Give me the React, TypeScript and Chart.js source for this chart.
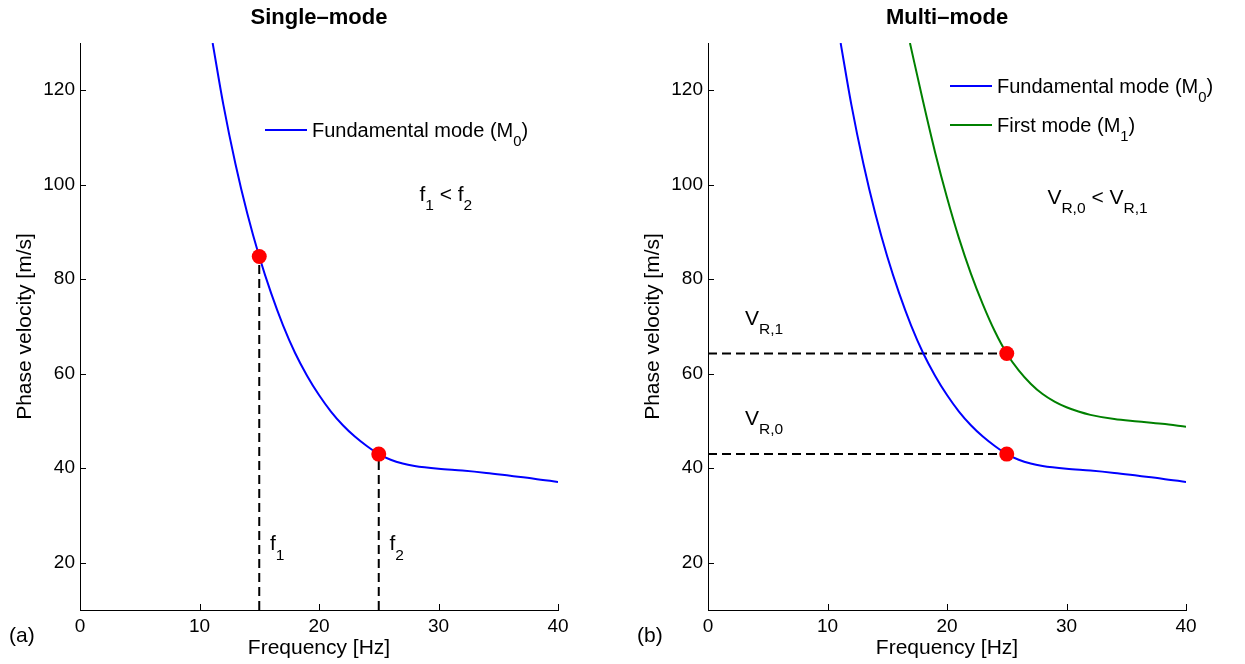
import React, { useEffect, useRef } from 'react';
import { Chart, registerables } from 'chart.js';

Chart.register(...registerables);

const FONT = '"Liberation Sans", Arial, Helvetica, sans-serif';

// ---- data ----
const xTicks = [0, 10, 20, 30, 40];
const yTicks = [20, 40, 60, 80, 100, 120];
const xRange = [0, 40];
const yRange = [10, 130];

// Fundamental mode M0 (frequency Hz, phase velocity m/s)
const m0Freq = [11.1, 12, 13, 14, 15, 16, 17, 18, 19, 20, 21, 22, 23, 24, 25, 26, 27, 28, 30, 32, 34, 36, 38, 40];
const m0Vel = [130, 116.9, 104.5, 93.9, 84.8, 77.0, 70.2, 64.4, 59.6, 55.5, 52.0, 49.1, 46.7, 44.7, 43.0, 41.8, 41.0, 40.5, 39.9, 39.5, 39.0, 38.4, 37.8, 37.1];

// First mode M1
const m1Freq = [16.9, 18, 19, 20, 21, 22, 23, 24, 25, 26, 27, 28, 29, 30, 31, 32, 34, 36, 38, 40];
const m1Vel = [130, 117.6, 106.9, 97.3, 88.7, 81.2, 74.7, 69.0, 64.3, 60.7, 57.9, 55.7, 54.1, 52.9, 52.0, 51.3, 50.4, 49.9, 49.4, 48.8];

// Single-mode picks: two frequencies on M0
const singleFreq = [15, 25];
const singleVel = [84.8, 43.0];

// Multi-mode picks: one frequency, two modes
const multiFreq = [25, 25];
const multiVel = [43.0, 64.3];

const titles = ['Single\u2013mode', 'Multi\u2013mode'];
const xTitle = 'Frequency [Hz]';
const yTitle = 'Phase velocity [m/s]';

type Seg = { t: string; sub?: boolean };

function drawRich(ctx: CanvasRenderingContext2D, segs: Seg[], x: number, y: number, size: number) {
  let cx = x;
  ctx.textBaseline = 'alphabetic';
  ctx.textAlign = 'left';
  ctx.fillStyle = '#000';
  for (const s of segs) {
    const fs = s.sub ? size * 0.74 : size;
    ctx.font = `${fs}px ${FONT}`;
    ctx.fillText(s.t, cx, s.sub ? y + size * 0.45 : y);
    cx += ctx.measureText(s.t).width;
  }
}

const innerTicks = {
  id: 'innerTicks',
  afterDraw(chart: any) {
    const { ctx } = chart;
    const xs = chart.scales.x;
    const ys = chart.scales.y;
    ctx.save();
    ctx.strokeStyle = '#000';
    ctx.lineWidth = 1;
    ctx.beginPath();
    for (const t of xs.ticks) {
      const px = Math.round(xs.getPixelForValue(t.value)) + 0.5;
      ctx.moveTo(px, ys.bottom);
      ctx.lineTo(px, ys.bottom - 6);
    }
    for (const t of ys.ticks) {
      const py = Math.round(ys.getPixelForValue(t.value)) + 0.5;
      ctx.moveTo(xs.left, py);
      ctx.lineTo(xs.left + 6, py);
    }
    ctx.stroke();
    ctx.restore();
  },
};

type Legend = { color: string; segs: Seg[] };

function makeAnnot(panel: number, legends: Legend[], notes: { segs: Seg[]; fx: number; fy: number; size: number }[], tag: string) {
  return {
    id: 'annot' + panel,
    afterDraw(chart: any) {
      const { ctx, chartArea } = chart;
      const xs = chart.scales.x;
      const ys = chart.scales.y;
      ctx.save();
      // legend inside the axes
      const lx0 = chartArea.left + (panel === 0 ? 185 : 242);
      const ly0 = panel === 0 ? 130 : 86;
      legends.forEach((lg, i) => {
        const ly = ly0 + i * 39;
        ctx.strokeStyle = lg.color;
        ctx.lineWidth = 2;
        ctx.beginPath();
        ctx.moveTo(lx0, ly);
        ctx.lineTo(lx0 + 42, ly);
        ctx.stroke();
        drawRich(ctx, lg.segs, lx0 + 47, ly + 7, 20);
      });
      for (const n of notes) {
        drawRich(ctx, n.segs, xs.getPixelForValue(n.fx), ys.getPixelForValue(n.fy), n.size);
      }
      drawRich(ctx, [{ t: tag }], chartArea.left - 71, chartArea.bottom + 32, 21);
      ctx.restore();
    },
  };
}

function pts(xv: number[], yv: number[]) {
  return xv.map((x, i) => ({ x, y: yv[i] }));
}

function baseOptions(panel: number): any {
  return {
    responsive: false,
    animation: false,
    devicePixelRatio: 1,
    layout: { padding: panel === 0 ? { left: 0, right: 64, top: 0, bottom: 0 } : { left: 6, right: 59, top: 0, bottom: 0 } },
    plugins: {
      legend: { display: false },
      tooltip: { enabled: false },
      title: {
        display: true,
        text: titles[panel],
        color: '#000',
        fullSize: false,
        font: { family: FONT, size: 22, weight: 'bold' },
        padding: { top: 5, bottom: 11.6 },
      },
    },
    scales: {
      x: {
        type: 'linear',
        min: xRange[0],
        max: xRange[1],
        afterBuildTicks: (s: any) => { s.ticks = xTicks.map((v) => ({ value: v })); },
        afterFit: (s: any) => { s.height = 54; },
        grid: { display: false, drawTicks: false },
        border: { display: true, color: '#000', width: 1 },
        ticks: { color: '#000', font: { family: FONT, size: 19 }, padding: 5, maxRotation: 0 },
        title: { display: true, text: xTitle, color: '#000', font: { family: FONT, size: 21 }, padding: { top: 0, bottom: 3.4 } },
      },
      y: {
        type: 'linear',
        min: yRange[0],
        max: yRange[1],
        afterBuildTicks: (s: any) => { s.ticks = yTicks.map((v) => ({ value: v })); },
        afterFit: (s: any) => { s.width = 80; },
        grid: { display: false, drawTicks: false },
        border: { display: true, color: '#000', width: 1 },
        ticks: { color: '#000', font: { family: FONT, size: 19 }, padding: 5 },
        title: { display: true, text: yTitle, color: '#000', font: { family: FONT, size: 21 }, padding: { top: 12.4, bottom: 0 } },
      },
    },
  };
}

const dotStyle = {
  showLine: false,
  pointRadius: 7.5,
  pointBackgroundColor: '#ff0000',
  pointBorderWidth: 0,
  pointHoverRadius: 7.5,
};

const curveStyle = (color: string) => ({
  borderColor: color,
  borderWidth: 2,
  pointRadius: 0,
  cubicInterpolationMode: 'monotone' as const,
  fill: false,
});

const dashStyle = {
  borderColor: '#000',
  borderWidth: 2,
  borderDash: [9, 5],
  pointRadius: 0,
  fill: false,
};

function singleConfig(): any {
  return {
    type: 'line',
    data: {
      datasets: [
        { data: pts(singleFreq, singleVel), ...dotStyle },
        { data: pts(m0Freq, m0Vel), ...curveStyle('#0000ff') },
        ...singleFreq.map((f, i) => ({ data: [{ x: f, y: yRange[0] }, { x: f, y: singleVel[i] }], ...dashStyle })),
      ],
    },
    options: baseOptions(0),
    plugins: [
      innerTicks,
      makeAnnot(
        0,
        [{ color: '#0000ff', segs: [{ t: 'Fundamental mode (M' }, { t: '0', sub: true }, { t: ')' }] }],
        [
          { segs: [{ t: 'f' }, { t: '1', sub: true }, { t: ' < f' }, { t: '2', sub: true }], fx: 28.4, fy: 96.6, size: 21 },
          { segs: [{ t: 'f' }, { t: '1', sub: true }], fx: 15.9, fy: 22.6, size: 21 },
          { segs: [{ t: 'f' }, { t: '2', sub: true }], fx: 25.9, fy: 22.6, size: 21 },
        ],
        '(a)'
      ),
    ],
  };
}

function multiConfig(): any {
  return {
    type: 'line',
    data: {
      datasets: [
        { data: pts(multiFreq, multiVel), ...dotStyle },
        { data: pts(m0Freq, m0Vel), ...curveStyle('#0000ff') },
        { data: pts(m1Freq, m1Vel), ...curveStyle('#008000') },
        ...multiVel.map((v, i) => ({ data: [{ x: xRange[0], y: v }, { x: multiFreq[i], y: v }], ...dashStyle })),
      ],
    },
    options: baseOptions(1),
    plugins: [
      innerTicks,
      makeAnnot(
        1,
        [
          { color: '#0000ff', segs: [{ t: 'Fundamental mode (M' }, { t: '0', sub: true }, { t: ')' }] },
          { color: '#008000', segs: [{ t: 'First mode (M' }, { t: '1', sub: true }, { t: ')' }] },
        ],
        [
          { segs: [{ t: 'V' }, { t: 'R,0', sub: true }, { t: ' < V' }, { t: 'R,1', sub: true }], fx: 28.4, fy: 96.0, size: 21 },
          { segs: [{ t: 'V' }, { t: 'R,1', sub: true }], fx: 3.1, fy: 70.4, size: 21 },
          { segs: [{ t: 'V' }, { t: 'R,0', sub: true }], fx: 3.1, fy: 49.2, size: 21 },
        ],
        '(b)'
      ),
    ],
  };
}

export default function App() {
  const leftRef = useRef<HTMLCanvasElement>(null);
  const rightRef = useRef<HTMLCanvasElement>(null);

  useEffect(() => {
    Chart.defaults.font.family = FONT;
    Chart.defaults.color = '#000';
    const c1 = new Chart(leftRef.current!, singleConfig());
    const c2 = new Chart(rightRef.current!, multiConfig());
    return () => {
      c1.destroy();
      c2.destroy();
    };
  }, []);

  return (
    <div style={{ position: 'fixed', left: 0, top: 0, width: 1245, height: 664, background: '#fff' }}>
      <canvas ref={leftRef} width={622} height={664} style={{ position: 'absolute', left: 0, top: 0, width: 622, height: 664 }} />
      <canvas ref={rightRef} width={623} height={664} style={{ position: 'absolute', left: 622, top: 0, width: 623, height: 664 }} />
    </div>
  );
}
